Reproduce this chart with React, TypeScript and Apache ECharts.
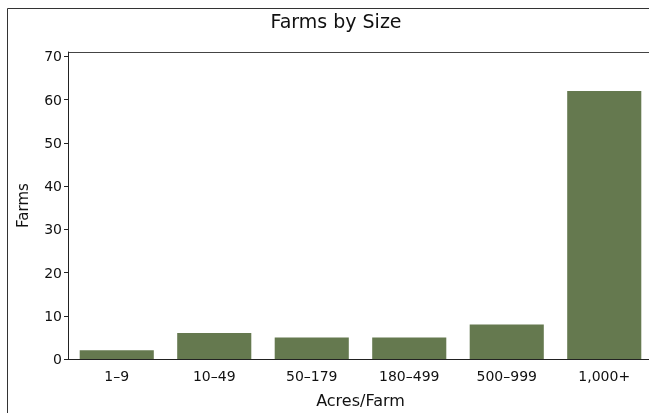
import React, { useEffect, useRef } from "react";
import * as echarts from "echarts";

const categories = ["1–9", "10–49", "50–179", "180–499", "500–999", "1,000+"];
const farms = [2, 6, 5, 5, 8, 62];
const yTicks = [0, 10, 20, 30, 40, 50, 60, 70];

export default function App() {
  const ref = useRef<HTMLDivElement>(null);
  useEffect(() => {
    if (!ref.current) return;
    const chart = echarts.init(ref.current, undefined, { renderer: "svg" });
    const font = "'DejaVu Sans', sans-serif";
    chart.setOption({
      animation: false,
      title: {
        text: "Farms by Size",
        left: 331,
        top: 6,
        textAlign: "center",
        textStyle: { fontFamily: font, fontSize: 19, fontWeight: "normal", color: "#111" },
      },
      graphic: [
        { type: "line", silent: true, shape: { x1: 7.5, y1: 8.5, x2: 7.5, y2: 413 }, style: { stroke: "#333", lineWidth: 1 } },
        { type: "line", silent: true, shape: { x1: 7.5, y1: 8.5, x2: 660, y2: 8.5 }, style: { stroke: "#333", lineWidth: 1 } },
        { type: "line", silent: true, shape: { x1: 68, y1: 52.5, x2: 660, y2: 52.5 }, style: { stroke: "#444", lineWidth: 1 } },
      ],
      grid: {
        left: 68,
        right: 7,
        top: 52,
        bottom: 48,
        show: false,
        containLabel: false,
      },
      xAxis: {
        type: "category",
        data: categories,
        name: "Acres/Farm",
        nameLocation: "middle",
        nameGap: 33,
        nameTextStyle: { fontFamily: font, fontSize: 16, color: "#111" },
        axisLine: { lineStyle: { color: "#222", width: 1 } },
        axisTick: { show: false },
        axisLabel: { fontFamily: font, fontSize: 14, color: "#111", margin: 10 },
      },
      yAxis: {
        type: "value",
        min: 0,
        max: 71,
        name: "Farms",
        nameLocation: "middle",
        nameGap: 38,
        nameTextStyle: { fontFamily: font, fontSize: 15, color: "#111" },
        axisLine: { show: true, lineStyle: { color: "#222", width: 1 } },
        axisTick: { show: true, length: 4, customValues: yTicks, lineStyle: { color: "#222" } },
        axisLabel: { fontFamily: font, fontSize: 14, color: "#111", margin: 6, customValues: yTicks },
        splitLine: { show: false },
      },
      series: [
        {
          type: "bar",
          data: farms,
          barCategoryGap: "24%",
          itemStyle: { color: "#65794f" },
        },
      ],
    });
    return () => chart.dispose();
  }, []);
  return (
    <div
      style={{
        position: "fixed",
        left: 0,
        top: 0,
        width: 649,
        height: 413,
        overflow: "hidden",
      }}
    >
      <div ref={ref} style={{ width: 660, height: 413 }} />
    </div>
  );
}
